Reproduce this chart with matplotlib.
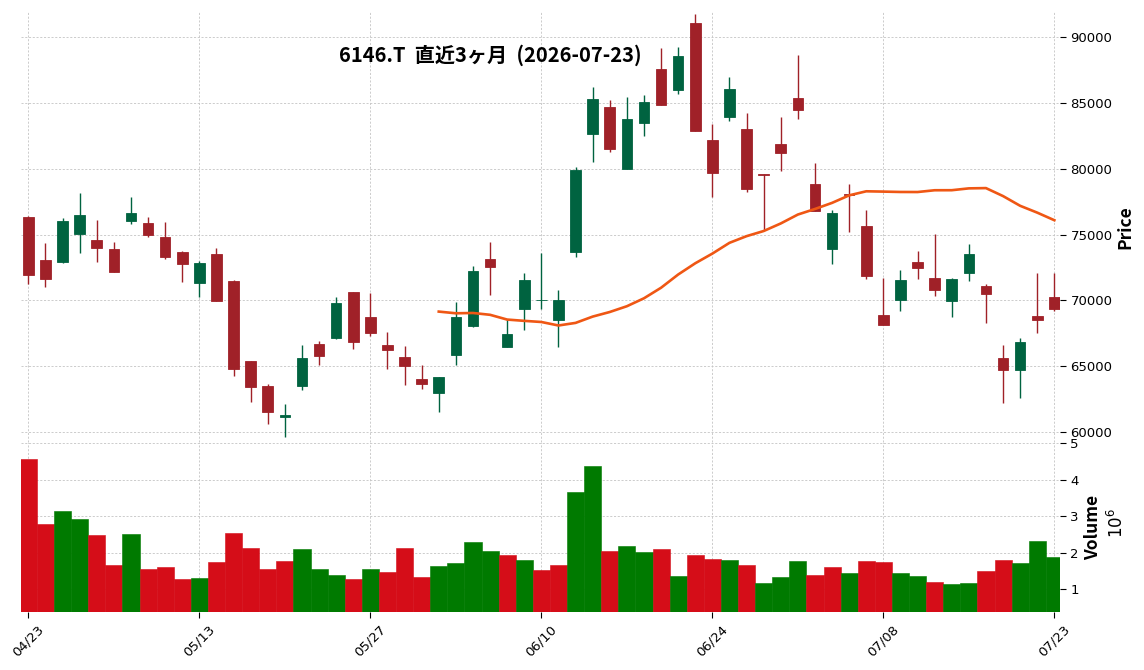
import numpy as np
import pandas as pd
import matplotlib
matplotlib.use("Agg")
import matplotlib.pyplot as plt

# ---------------- data ----------------
dates = ["04/23","04/24","04/27","04/28","04/30","05/01","05/07","05/08","05/11","05/12",
         "05/13","05/14","05/15","05/18","05/19","05/20","05/21","05/22","05/25","05/26",
         "05/27","05/28","05/29","06/01","06/02","06/03","06/04","06/05","06/08","06/09",
         "06/10","06/11","06/12","06/15","06/16","06/17","06/18","06/19","06/22","06/23",
         "06/24","06/25","06/26","06/29","06/30","07/01","07/02","07/03","07/06","07/07",
         "07/08","07/09","07/10","07/13","07/14","07/15","07/16","07/17","07/21","07/22",
         "07/23"]

opens = [76330, 73060, 72940, 75060, 74580, 73900, 76050, 75870, 74810, 73670,
         71340, 73520, 71470, 65390, 63490, 61110, 63520, 66680, 67130, 70630,
         68730, 66610, 65700, 64030, 62990, 65870, 68080, 73140, 66480, 69340,
         70000, 68480, 73700, 82660, 84680, 80000, 83490, 87570, 86000, 91060,
         82180, 83950, 83010, 79600, 81870, 85370, 78840, 73920, 78020, 75650,
         68890, 70050, 72940, 71700, 69970, 72100, 71090, 65600, 64710, 68810,
         70250]
highs = [76400, 74330, 76230, 78130, 76080, 74410, 77830, 76310, 75980, 73750,
         72990, 73950, 71540, 65400, 63620, 62100, 66580, 66910, 70230, 70650,
         70530, 67600, 66510, 65060, 64200, 69890, 72610, 74430, 68580, 72050,
         73570, 70760, 80100, 86180, 85220, 85420, 85570, 89140, 89270, 91720,
         83390, 86940, 84200, 79620, 83900, 88610, 80400, 76890, 78810, 76890,
         71670, 72300, 73720, 75040, 71700, 74280, 71220, 66580, 67110, 72050,
         72050]
lows = [71220, 71040, 72810, 73570, 72890, 72150, 75800, 74790, 73110, 71370,
        70280, 69950, 64250, 62250, 60610, 59600, 63170, 65060, 67090, 66280,
        67290, 64760, 63540, 63240, 61490, 65060, 68000, 70410, 66460, 67750,
        69340, 66430, 73270, 80480, 81240, 79990, 82480, 84800, 85650, 82850,
        77870, 83650, 78210, 75340, 79800, 83750, 76790, 72730, 75220, 71600,
        68100, 69190, 71600, 70300, 68710, 71470, 68250, 62180, 62560, 67490,
        69220]
closes = [71950, 71640, 76030, 76480, 74000, 72180, 76630, 74990, 73320, 72780,
          72840, 69970, 64810, 63440, 61540, 61320, 65620, 65800, 69790, 66860,
          67540, 66250, 65010, 63670, 64180, 68730, 72230, 72560, 67440, 71540,
          70030, 69990, 79900, 85290, 81520, 83770, 85060, 84840, 88560, 82890,
          79700, 86050, 78480, 79550, 81220, 84460, 76810, 76610, 77980, 71870,
          68130, 71540, 72460, 70810, 71620, 73520, 70510, 64730, 66840, 68530,
          69370]
volumes = [4577000, 2793000, 3144000, 2928000, 2495000, 1658000, 2523000, 1550000, 1604000, 1279000,
           1306000, 1739000, 2550000, 2117000, 1550000, 1766000, 2090000, 1550000, 1387000, 1279000,
           1550000, 1468000, 2144000, 1333000, 1631000, 1712000, 2306000, 2036000, 1928000, 1793000,
           1523000, 1658000, 3658000, 4360000, 2036000, 2198000, 2009000, 2090000, 1360000, 1928000,
           1820000, 1793000, 1658000, 1171000, 1333000, 1766000, 1387000, 1604000, 1441000, 1766000,
           1739000, 1441000, 1360000, 1198000, 1144000, 1171000, 1495000, 1793000, 1712000, 2333000,
           1874000]

title = "6146.T  直近3ヶ月  (2026-07-23)"
mav_period = 25

# ---------------- styling ----------------
UP, DOWN = "#006340", "#a02128"
VUP, VDOWN = "#007a00", "#d50d18"
MAVC = "#ef5714"
GRID = "#c4c4c4"
JP = ["Noto Sans CJK JP", "DejaVu Sans"]

o = np.array(opens, float); h = np.array(highs, float)
l = np.array(lows, float); c = np.array(closes, float)
v = np.array(volumes, float) / 1e6
x = np.arange(len(dates))

W, H = 1144, 670
fig = plt.figure(figsize=(W / 100, H / 100), dpi=100)
left, right = 21 / W, 1060 / W
ax = fig.add_axes([left, 1 - 442 / H, right - left, (442 - 11.5) / H])
axv = fig.add_axes([left, 1 - 612 / H, right - left, (612 - 442) / H], sharex=ax)

for a in (ax, axv):
    for s in a.spines.values():
        s.set_visible(False)
    a.grid(True, linestyle=(0, (2.5, 2)), color=GRID, linewidth=0.6)
    a.set_axisbelow(True)
    a.yaxis.tick_right()
    a.tick_params(axis="both", length=4, width=0.8, labelsize=9.5, colors="black")

# candles
up = c >= o
ccol = np.where(up, UP, DOWN)
ax.vlines(x, l, h, colors=ccol, linewidth=1.0, zorder=2)
body_bot = np.minimum(o, c)
body_h = np.maximum(np.abs(c - o), 60)
ax.bar(x, body_h, bottom=body_bot, width=0.62, color=ccol, edgecolor=ccol,
       linewidth=0.6, zorder=3)

# moving average
ma = pd.Series(c).rolling(mav_period).mean()
ax.plot(x, ma, color=MAVC, linewidth=1.9, zorder=4)

ax.set_ylim(59240, 91940)
ax.set_yticks([60000, 65000, 70000, 75000, 80000, 85000, 90000])
ax.set_xlim(-0.43, 60.33)
plt.setp(ax.get_xticklabels(), visible=False)
ax.tick_params(axis="x", length=0)

# volume
prev = np.concatenate([[c[0]], c[:-1]])
vcol = np.where(c >= prev, VUP, VDOWN)
vcol[0] = VDOWN if c[0] < o[0] else VUP
axv.bar(x, v, width=1.0, color=vcol, edgecolor=vcol, linewidth=0.4, zorder=2)
axv.set_ylim(0.38, 5.03)
axv.set_yticks([1, 2, 3, 4, 5])

ticks = list(range(0, 61, 10))
axv.set_xticks(ticks)
axv.set_xticklabels([dates[i] for i in ticks], rotation=45, ha="center", fontsize=9.5)

# labels
fig.text(490.5 / W, 1 - 55 / H, title, family=JP, fontweight="bold", fontsize=14.5,
         ha="center", va="center")
fig.text(1125 / W, 1 - 227 / H, "Price", family=JP, fontweight="bold", fontsize=12.5,
         rotation=90, ha="center", va="center")
fig.text(1093 / W, 1 - 527 / H, "Volume", family=JP, fontweight="bold", fontsize=12.5,
         rotation=90, ha="center", va="center")
fig.text(1117 / W, 1 - 523 / H, r"$10^{6}$", fontsize=12, rotation=90,
         ha="center", va="center")

fig.savefig("out.png", dpi=100)
